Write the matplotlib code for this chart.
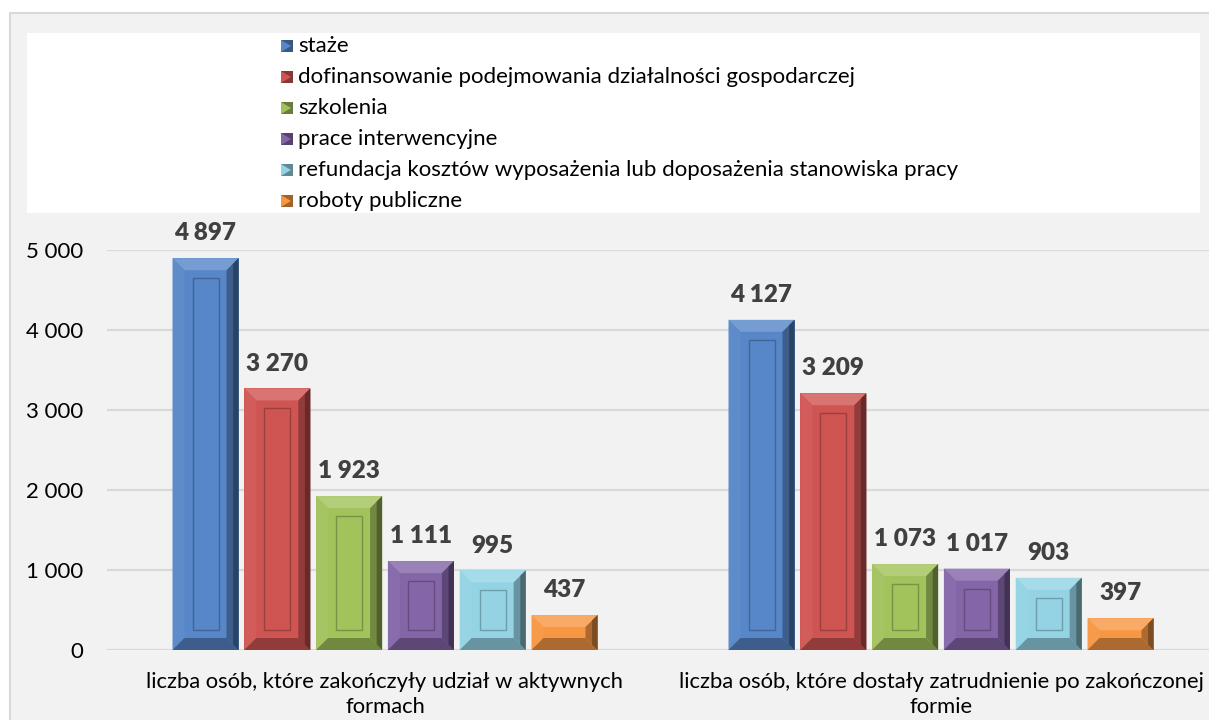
import matplotlib
matplotlib.use("Agg")
import matplotlib.pyplot as plt
from matplotlib.patches import Rectangle, Polygon
from matplotlib.transforms import IdentityTransform
import matplotlib.colors as mcolors
import numpy as np

# ---------------- data ----------------
categories = ["liczba osób, które zakończyły udział w aktywnych\nformach",
              "liczba osób, które dostały zatrudnienie po zakończonej\nformie"]
series = ["staże",
          "dofinansowanie podejmowania działalności gospodarczej",
          "szkolenia",
          "prace interwencyjne",
          "refundacja kosztów wyposażenia lub doposażenia stanowiska pracy",
          "roboty publiczne"]
values_completed = [4897, 3270, 1923, 1111, 995, 437]
values_employed = [4127, 3209, 1073, 1017, 903, 397]
colors = ["#5787c8", "#cf5553", "#a2c25c", "#8466a8", "#93d3e4", "#f79744"]
yticks = [0, 1000, 2000, 3000, 4000, 5000]

W, H = 1209, 720
FONT = "Lato"
plt.rcParams["font.family"] = [FONT, "DejaVu Sans"]

fig = plt.figure(figsize=(W / 100, H / 100), dpi=100)
fig.patch.set_facecolor("white")

def fx(px):
    return px / W

def fy(py):
    return 1 - py / H

# chart area
fig.patches.append(Rectangle((fx(10), fy(725)), fx(1215) - fx(10), fy(13) - fy(725),
                             transform=fig.transFigure, facecolor="#f2f2f2",
                             edgecolor="#d9d9d9", linewidth=1.5, zorder=-3))
# legend box
fig.patches.append(Rectangle((fx(27), fy(213)), fx(1200) - fx(27), fy(33) - fy(213),
                             transform=fig.transFigure, facecolor="white",
                             edgecolor="none", zorder=-2))

cw = 556.0  # px per category
c0 = 385.0
left_px = 107
right_px = c0 + 1.5 * cw
ax = fig.add_axes([fx(left_px), fy(650), fx(right_px) - fx(left_px), fy(250) - fy(650)])
ax.set_facecolor("none")
ax.set_ylim(0, 5000)
ax.set_xlim((left_px - c0) / cw, (right_px - c0) / cw)
for s in ax.spines.values():
    s.set_visible(False)
ax.set_yticks(yticks)
ax.set_yticklabels([f"{v:,}".replace(",", " ") for v in yticks], fontsize=16, color="black")
ax.tick_params(axis="y", length=0, pad=17)
ax.tick_params(axis="x", length=0, pad=16)
ax.set_xticks([0, 1])
ax.set_xticklabels(categories, fontsize=15.8, linespacing=1.32)
ax.yaxis.grid(True, color="#d9d9d9", linewidth=1.6)
ax.set_axisbelow(True)

def shade(c, f):
    r = np.array(mcolors.to_rgb(c))
    if f >= 0:
        return tuple(r + (1 - r) * f)
    return tuple(r * (1 + f))

def bevel(x0, y0, x1, y1, c, b=12, inner=20, z=3):
    tr = IdentityTransform()
    h = y1 - y0
    w = x1 - x0
    b = min(b, h / 2, w / 2)
    polys = [
        ([(x0, y1), (x1, y1), (x1 - b, y1 - b), (x0 + b, y1 - b)], shade(c, 0.18)),
        ([(x0, y0), (x0, y1), (x0 + b, y1 - b), (x0 + b, y0 + b)], shade(c, 0.04)),
        ([(x1, y0), (x1, y1), (x1 - b, y1 - b), (x1 - b, y0 + b)], shade(c, -0.3)),
        ([(x0, y0), (x1, y0), (x1 - b, y0 + b), (x0 + b, y0 + b)], shade(c, -0.3)),
        ([(x1, y0), (x1, y1), (x1 - b * 0.45, y1 - b * 0.45), (x1 - b * 0.45, y0 + b * 0.45)],
         shade(c, -0.5)),
    ]
    for pts, col in polys:
        ax.add_patch(Polygon(pts, closed=True, facecolor=col, edgecolor="none",
                             transform=tr, zorder=z, clip_on=False))
    if inner and h > 2 * inner + 2:
        ax.add_patch(Rectangle((x0 + inner, y0 + inner), w - 2 * inner, h - 2 * inner,
                               facecolor="none", edgecolor=shade(c, -0.25), linewidth=1.0,
                               transform=tr, zorder=z + 0.1, clip_on=False))

pitch = 71.8 / cw
bw = 66.0 / cw
all_vals = [values_completed, values_employed]
x = np.arange(len(categories))
for i, name in enumerate(series):
    vals = [all_vals[0][i], all_vals[1][i]]
    xpos = x + (i - 2.5) * pitch
    ax.bar(xpos, vals, width=bw, color=colors[i], edgecolor="none", zorder=2)
    for xp, v in zip(xpos, vals):
        (px0, py0) = ax.transData.transform((xp - bw / 2, 0))
        (px1, py1) = ax.transData.transform((xp + bw / 2, v))
        bevel(px0, py0, px1, py1, colors[i])
        ax.annotate(f"{v:,}".replace(",", " "), (xp, v), xytext=(0, 10),
                    textcoords="offset points", ha="center", va="bottom",
                    fontsize=17.5, fontweight="heavy", color="#404040",
                    annotation_clip=False)

# legend
for i, name in enumerate(series):
    yc = 46 + 31 * i
    px0, px1 = 281, 293
    py0, py1 = H - (yc + 6), H - (yc - 6)
    fig.patches.append(Polygon([(px0, py0), (px1, py0), (px1, py1), (px0, py1)], closed=True,
                               facecolor=shade(colors[i], -0.35), edgecolor="none",
                               transform=IdentityTransform(), zorder=2))
    fig.patches.append(Polygon([(px0, py0), (px0, py1), (px1 - 2, (py0 + py1) / 2)], closed=True,
                               facecolor=colors[i], edgecolor="none",
                               transform=IdentityTransform(), zorder=3))
    fig.text(fx(298), fy(yc), name, fontsize=16, va="center", ha="left", color="black")

fig.savefig("out.png", dpi=100)
